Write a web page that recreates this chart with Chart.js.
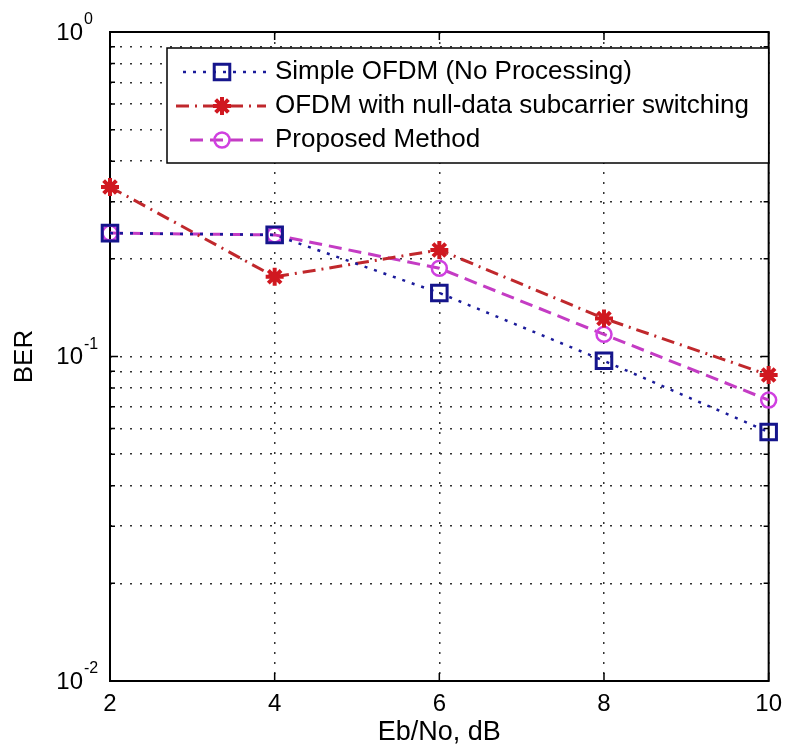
<!DOCTYPE html>
<html>
<head>
<meta charset="utf-8">
<script src="https://cdn.jsdelivr.net/npm/chart.js@4.4.1/dist/chart.umd.min.js"></script>
<style>
  html, body { margin: 0; padding: 0; background: #fff; }
  #wrap { width: 791px; height: 746px; }
</style>
</head>
<body>
<div id="wrap"><canvas id="berChart" width="791" height="746"></canvas></div>
<script>
// values (Eb/No in dB, BER on log axis)
const ebNo = [2, 4, 6, 8, 10];
const simpleOfdm = [0.240, 0.237, 0.157, 0.097, 0.0585];
const nullDataSwitching = [0.333, 0.176, 0.213, 0.131, 0.0877];
const proposedMethod = [0.240, 0.237, 0.187, 0.117, 0.0734];
const seriesNames = ['Simple OFDM (No Processing)', 'OFDM with null-data subcarrier switching', 'Proposed Method'];

const xTicks = [2, 4, 6, 8, 10];
const yTicks = [0.01, 0.02, 0.03, 0.04, 0.05, 0.06, 0.07, 0.08, 0.09,
                0.1, 0.2, 0.3, 0.4, 0.5, 0.6, 0.7, 0.8, 0.9, 1];
const yLabelValues = [1, 0.1, 0.01];
const yLabelExponents = ['0', '-1', '-2'];

const FONT = '"Liberation Sans", Arial, Helvetica, sans-serif';

function toPoints(ys) {
  return ebNo.map((x, i) => ({ x: x, y: ys[i] }));
}

// box round the axes, inward tick marks, 10^n labels and the legend
const matlabFrame = {
  id: 'matlabFrame',
  beforeDatasetsDraw(chart) {
    const ctx = chart.ctx;
    const a = chart.chartArea;
    const xs = chart.scales.x, ys = chart.scales.y;
    ctx.save();
    ctx.strokeStyle = '#000';
    ctx.lineWidth = 1.5;
    ctx.setLineDash([]);
    ctx.beginPath();
    xTicks.forEach(v => {
      const px = xs.getPixelForValue(v);
      ctx.moveTo(px, a.bottom); ctx.lineTo(px, a.bottom - 8);
      ctx.moveTo(px, a.top); ctx.lineTo(px, a.top + 8);
    });
    yTicks.forEach(v => {
      const py = ys.getPixelForValue(v);
      const len = yLabelValues.includes(v) ? 8 : 5;
      ctx.moveTo(a.left, py); ctx.lineTo(a.left + len, py);
      ctx.moveTo(a.right, py); ctx.lineTo(a.right - len, py);
    });
    ctx.stroke();
    ctx.lineWidth = 2;
    ctx.strokeRect(a.left, a.top, a.right - a.left, a.bottom - a.top);

    // y labels as 10 with a raised exponent
    ctx.fillStyle = '#000';
    yLabelValues.forEach((v, i) => {
      const py = ys.getPixelForValue(v);
      ctx.font = '24px ' + FONT;
      ctx.textAlign = 'right';
      ctx.textBaseline = 'middle';
      ctx.fillText('10', a.left - 27, py + 1);
      ctx.font = '16px ' + FONT;
      ctx.textAlign = 'left';
      ctx.textBaseline = 'alphabetic';
      ctx.fillText(yLabelExponents[i], a.left - 26, py - 8);
    });
    ctx.restore();
  },
  afterDatasetsDraw(chart) {
    const ctx = chart.ctx;
    const a = chart.chartArea;
    const left = 167, top = 48, bottom = 163;
    const rows = [72, 106, 140];
    ctx.save();
    ctx.fillStyle = '#fff';
    ctx.fillRect(left, top, a.right - left, bottom - top);
    ctx.strokeStyle = '#000';
    ctx.lineWidth = 1.5;
    ctx.strokeRect(left, top, a.right - left, bottom - top);

    chart.data.datasets.forEach((ds, i) => {
      const y = rows[i];
      ctx.strokeStyle = ds.borderColor;
      ctx.lineWidth = ds.borderWidth;
      ctx.setLineDash(ds.borderDash);
      ctx.beginPath();
      ctx.moveTo(ds.legendStart, y);
      ctx.lineTo(266, y);
      ctx.stroke();
      ctx.setLineDash([]);
      ctx.strokeStyle = ds.pointBorderColor;
      ctx.fillStyle = ds.pointBackgroundColor;
      ctx.lineWidth = ds.pointBorderWidth;
      Chart.helpers.drawPoint(ctx, {
        pointStyle: ds.pointStyle, radius: ds.pointRadius, rotation: 0, borderWidth: ds.pointBorderWidth
      }, 222, y);
      ctx.fillStyle = '#000';
      ctx.font = '26px ' + FONT;
      ctx.textBaseline = 'middle';
      ctx.textAlign = 'left';
      ctx.fillText(seriesNames[i], 275, y);
    });
    ctx.restore();
  }
};

new Chart(document.getElementById('berChart'), {
  type: 'line',
  data: {
    datasets: [
      {
        label: seriesNames[0],
        data: toPoints(simpleOfdm),
        borderColor: '#1b1b9a',
        borderWidth: 2.5,
        borderDash: [3, 7],
        pointStyle: 'rect',
        pointRadius: 11,
        pointBorderWidth: 3,
        pointBorderColor: '#15158c',
        pointBackgroundColor: 'rgba(255,255,255,0)',
        legendStart: 183,
        clip: false
      },
      {
        label: seriesNames[1],
        data: toPoints(nullDataSwitching),
        borderColor: '#c0282c',
        borderWidth: 3,
        borderDash: [13, 6, 2, 6],
        pointStyle: 'star',
        pointRadius: 9,
        pointBorderWidth: 4,
        pointBorderColor: '#d01820',
        pointBackgroundColor: '#d01820',
        legendStart: 176,
        clip: false
      },
      {
        label: seriesNames[2],
        data: toPoints(proposedMethod),
        borderColor: '#c43cc4',
        borderWidth: 3,
        borderDash: [13, 7],
        pointStyle: 'circle',
        pointRadius: 7.5,
        pointBorderWidth: 2.5,
        pointBorderColor: '#d040e0',
        pointBackgroundColor: 'rgba(255,255,255,0)',
        legendStart: 190,
        clip: false
      }
    ]
  },
  options: {
    responsive: false,
    animation: false,
    layout: { padding: { left: 0, top: 32, right: 14, bottom: 0 } },
    plugins: {
      legend: { display: false },
      tooltip: { enabled: false }
    },
    scales: {
      x: {
        type: 'linear',
        min: 2,
        max: 10,
        afterBuildTicks: (s) => { s.ticks = xTicks.map(v => ({ value: v })); },
        afterFit: (s) => { s.height = 65; },
        ticks: {
          color: '#000',
          font: { size: 24, family: FONT },
          padding: 9,
          maxRotation: 0,
          autoSkip: false
        },
        grid: { color: '#333', lineWidth: 1.5, drawTicks: false },
        border: { display: false, dash: [2, 8] },
        title: {
          display: true,
          text: 'Eb/No, dB',
          color: '#000',
          font: { size: 27, family: FONT, lineHeight: 1 },
          padding: 0
        }
      },
      y: {
        type: 'logarithmic',
        min: 0.01,
        max: 1,
        afterBuildTicks: (s) => { s.ticks = yTicks.map(v => ({ value: v })); },
        afterFit: (s) => { s.width = 110; },
        ticks: {
          autoSkip: false,
          callback: () => ''
        },
        grid: { color: '#333', lineWidth: 1.5, drawTicks: false },
        border: { display: false, dash: [2, 8] },
        title: {
          display: true,
          text: 'BER',
          color: '#000',
          font: { size: 26, family: FONT, lineHeight: 1 },
          padding: { top: 12, bottom: 0 }
        }
      }
    }
  },
  plugins: [matlabFrame]
});
</script>
</body>
</html>
